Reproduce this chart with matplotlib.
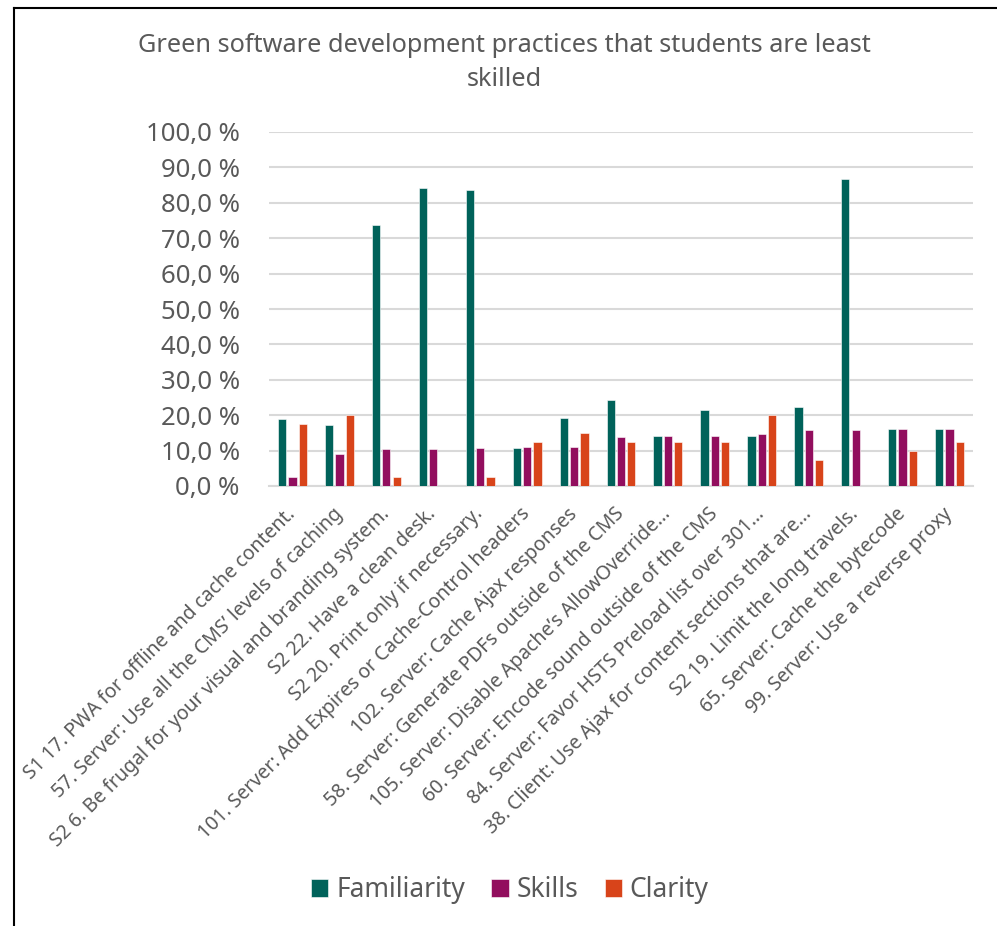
import matplotlib
matplotlib.use("Agg")
import matplotlib.pyplot as plt
import numpy as np
from matplotlib.lines import Line2D

plt.rcParams['font.family'] = ['Noto Sans', 'DejaVu Sans']

categories = [
    "S1 17. PWA for offline and cache content.",
    "57. Server: Use all the CMS\u2019 levels of caching",
    "S2 6. Be frugal for your visual and branding system.",
    "S2 22. Have a clean desk.",
    "S2 20. Print only if necessary.",
    "101. Server: Add Expires or Cache-Control headers",
    "102. Server: Cache Ajax responses",
    "58. Server: Generate PDFs outside of the CMS",
    "105. Server: Disable Apache\u2019s AllowOverride\u2026",
    "60. Server: Encode sound outside of the CMS",
    "84. Server: Favor HSTS Preload list over 301\u2026",
    "38. Client: Use Ajax for content sections that are\u2026",
    "S2 19. Limit the long travels.",
    "65. Server: Cache the bytecode",
    "99. Server: Use a reverse proxy",
]
familiarity = [18.8, 17.1, 73.6, 84.1, 83.7, 10.7, 19.3, 24.2, 14.2, 21.6, 14.2, 22.2, 86.7, 16.0, 16.0]
skills      = [2.5, 9.0, 10.4, 10.4, 10.7, 10.9, 10.9, 13.8, 14.2, 14.2, 14.6, 15.7, 15.7, 16.0, 16.0]
clarity     = [17.5, 20.0, 2.5, 0.0, 2.5, 12.4, 14.9, 12.4, 12.4, 12.4, 20.0, 7.4, 0.0, 9.9, 12.4]
series_names = ["Familiarity", "Skills", "Clarity"]
colors = ["#00625A", "#920E5E", "#D8441A"]
yticks = list(range(0, 101, 10))
ytick_labels = [f"{v},0 %" for v in yticks]

W, H = 997, 926
fig = plt.figure(figsize=(W/100, H/100), dpi=100)
ax = fig.add_axes([269/W, 1-486/H, (973-269)/W, (486-132)/H])

x = np.arange(len(categories))
bw = 0.177
step = 0.22
for i, (vals, c, n) in enumerate(zip([familiarity, skills, clarity], colors, series_names)):
    ax.bar(x + (i-1)*step, vals, width=bw, color=c, label=n,
           edgecolor='#ffffff', linewidth=0.4, zorder=3)

ax.set_xlim(-0.5, len(categories)-0.5)
ax.set_ylim(0, 100)
ax.set_yticks(yticks)
ax.set_yticklabels(ytick_labels, fontsize=18.5, color='#595959')
ax.yaxis.grid(True, color='#D9D9D9', linewidth=1.5, zorder=0)
ax.set_axisbelow(True)
for s in ['top', 'right', 'left']:
    ax.spines[s].set_visible(False)
ax.spines['bottom'].set_color('#D9D9D9')
ax.spines['bottom'].set_linewidth(1.5)
ax.tick_params(axis='y', length=0, pad=21)
ax.tick_params(axis='x', length=0, pad=18)
ax.set_xticks(x)
ax.set_xticklabels(categories, rotation=45, ha='right', va='center',
                   rotation_mode='anchor', fontsize=14, color='#595959')

fig.text(504/W, 1-45/H, "Green software development practices that students are least",
         ha='center', va='center', fontsize=18.2, color='#595959')
fig.text(504/W, 1-80/H, "skilled", ha='center', va='center', fontsize=18.2, color='#595959')

leg = fig.legend(loc='center', bbox_to_anchor=(510/W, 1-890/H), ncol=3, frameon=False,
                 fontsize=19, handlelength=0.65, handleheight=0.65, handletextpad=0.3,
                 columnspacing=1.0)
for t in leg.get_texts():
    t.set_color('#595959')

fig.add_artist(Line2D([14/W, 14/W], [0, 1-8/H], color='black', linewidth=1.5, transform=fig.transFigure))
fig.add_artist(Line2D([14/W, 1], [1-8/H, 1-8/H], color='black', linewidth=1.5, transform=fig.transFigure))

fig.savefig("out.png", dpi=100)
